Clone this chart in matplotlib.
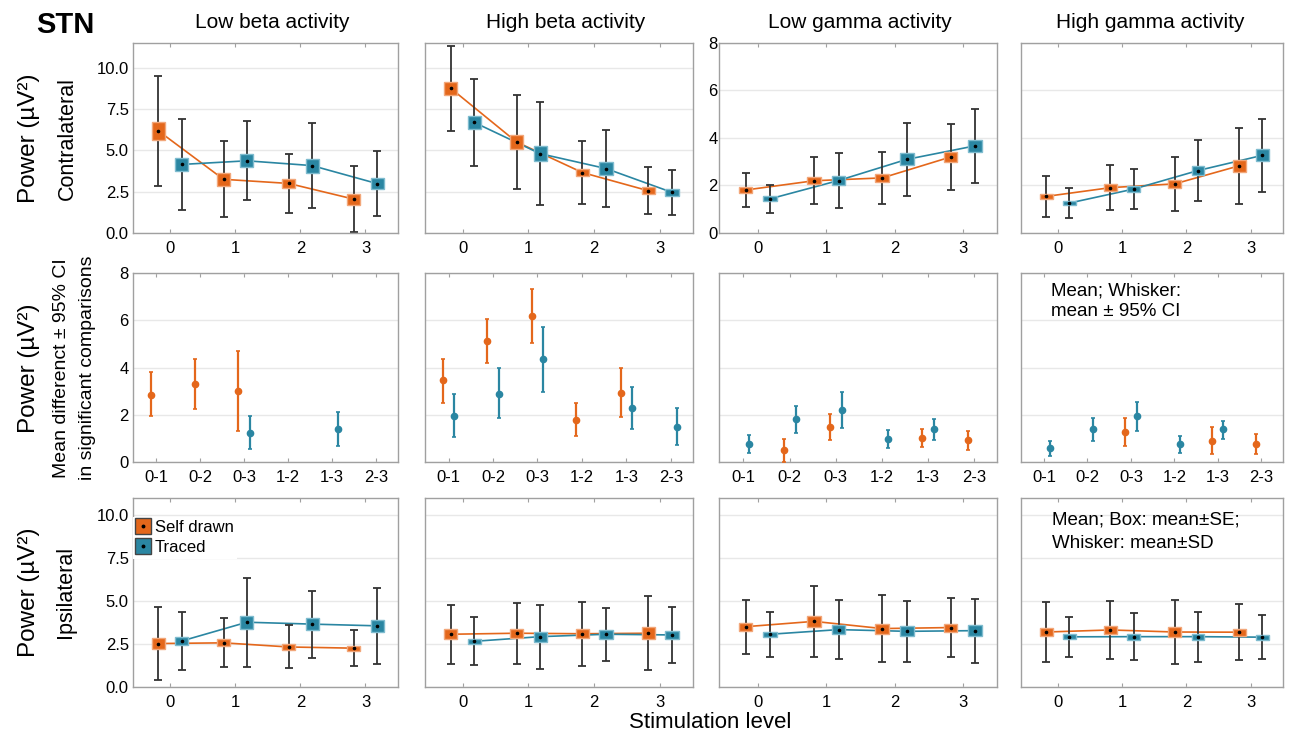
import matplotlib
matplotlib.use('Agg')
import matplotlib.pyplot as plt
from matplotlib.lines import Line2D

plt.rcParams['font.family'] = ['Liberation Sans', 'DejaVu Sans']

# ---- data ----
levels = [0, 1, 2, 3]
pairs = ['0-1', '0-2', '0-3', '1-2', '1-3', '2-3']
titles = ['Low beta activity', 'High beta activity', 'Low gamma activity', 'High gamma activity']

# contralateral (row 1): mean, SE (box), SD (whisker) per band
contra_self_mean = [[6.18, 3.25, 3.00, 2.05], [8.76, 5.51, 3.66, 2.56], [1.81, 2.20, 2.32, 3.20], [1.54, 1.91, 2.07, 2.83]]
contra_self_se = [[0.56, 0.40, 0.25, 0.33], [0.40, 0.45, 0.23, 0.20], [0.11, 0.14, 0.16, 0.23], [0.12, 0.15, 0.18, 0.25]]
contra_self_sd = [[3.35, 2.30, 1.80, 2.00], [2.57, 2.87, 1.92, 1.42], [0.71, 0.98, 1.08, 1.40], [0.87, 0.94, 1.13, 1.61]]
contra_traced_mean = [[4.15, 4.37, 4.08, 2.99], [6.69, 4.80, 3.90, 2.46], [1.44, 2.21, 3.10, 3.67], [1.26, 1.85, 2.63, 3.27]]
contra_traced_se = [[0.40, 0.40, 0.42, 0.32], [0.40, 0.47, 0.38, 0.20], [0.10, 0.18, 0.25, 0.24], [0.10, 0.13, 0.20, 0.25]]
contra_traced_sd = [[2.75, 2.40, 2.55, 1.96], [2.66, 3.10, 2.35, 1.35], [0.59, 1.15, 1.55, 1.57], [0.63, 0.86, 1.30, 1.55]]

# ipsilateral (row 3)
ipsi_self_mean = [[2.53, 2.57, 2.33, 2.26], [3.07, 3.13, 3.10, 3.13], [3.51, 3.82, 3.40, 3.46], [3.20, 3.32, 3.20, 3.19]]
ipsi_self_se = [[0.34, 0.20, 0.17, 0.15], [0.28, 0.26, 0.27, 0.35], [0.23, 0.32, 0.29, 0.23], [0.24, 0.24, 0.28, 0.20]]
ipsi_self_sd = [[2.14, 1.42, 1.25, 1.04], [1.73, 1.78, 1.85, 2.16], [1.58, 2.05, 1.96, 1.70], [1.72, 1.68, 1.87, 1.64]]
ipsi_traced_mean = [[2.68, 3.77, 3.66, 3.56], [2.66, 2.93, 3.07, 3.03], [3.07, 3.34, 3.24, 3.28], [2.92, 2.93, 2.93, 2.90]]
ipsi_traced_se = [[0.22, 0.39, 0.34, 0.35], [0.16, 0.29, 0.26, 0.24], [0.16, 0.24, 0.29, 0.30], [0.14, 0.17, 0.17, 0.15]]
ipsi_traced_sd = [[1.70, 2.58, 1.95, 2.22], [1.40, 1.87, 1.55, 1.64], [1.32, 1.70, 1.78, 1.86], [1.17, 1.35, 1.46, 1.28]]

# significant comparisons (row 2): pair index, mean difference, 95% CI
diff_self_idx = [[0, 1, 2], [0, 1, 2, 3, 4], [1, 2, 4, 5], [2, 4, 5]]
diff_self_mean = [[2.85, 3.30, 3.00], [3.49, 5.14, 6.18, 1.79, 2.93], [0.51, 1.49, 1.00, 0.93], [1.28, 0.91, 0.77]]
diff_self_lo = [[1.94, 2.24, 1.31], [2.49, 4.18, 5.04, 1.10, 1.89], [0.00, 0.93, 0.62, 0.52], [0.69, 0.32, 0.32]]
diff_self_hi = [[3.80, 4.37, 4.70], [4.34, 6.07, 7.31, 2.49, 3.97], [0.97, 2.02, 1.38, 1.32], [1.87, 1.49, 1.19]]
diff_traced_idx = [[2, 4], [0, 1, 2, 4, 5], [0, 1, 2, 3, 4], [0, 1, 2, 3, 4]]
diff_traced_mean = [[1.24, 1.38], [1.96, 2.89, 4.35, 2.28, 1.49], [0.76, 1.80, 2.20, 0.96, 1.39], [0.58, 1.38, 1.94, 0.77, 1.38]]
diff_traced_lo = [[0.55, 0.68], [1.06, 1.87, 2.96, 1.39, 0.72], [0.38, 1.22, 1.45, 0.58, 0.93], [0.27, 0.91, 1.33, 0.39, 0.96]]
diff_traced_hi = [[1.93, 2.10], [2.87, 3.96, 5.72, 3.17, 2.27], [1.14, 2.36, 2.95, 1.35, 1.81], [0.88, 1.85, 2.53, 1.12, 1.73]]

ORANGE = '#E4671B'
ORANGE_EDGE = '#F2A77A'
TEAL = '#2A86A2'
TEAL_EDGE = '#7FBCCF'

W, H = 1290, 735
col_l = [133, 425, 719, 1021]
col_r = [398, 693, 997, 1283]
row_t = [43, 273, 498]
row_b = [233, 462, 687]

fig = plt.figure(figsize=(W / 100, H / 100), dpi=100)


def add_ax(r, c):
    return fig.add_axes([col_l[c] / W, 1 - row_b[r] / H,
                         (col_r[c] - col_l[c]) / W, (row_b[r] - row_t[r]) / H])


def style(ax):
    for s in ax.spines.values():
        s.set_color('#a0a0a0')
        s.set_linewidth(1)
    ax.grid(axis='y', color='#e8e8e8', lw=1)
    ax.set_axisbelow(True)
    ax.tick_params(axis='x', direction='in', length=3, top=True, color='#a0a0a0',
                   labelsize=12, pad=6)
    ax.tick_params(axis='y', length=0, labelsize=12, pad=3)


def box_panel(ax, means, ses, sds, off, color, edge):
    x = [l + off for l in levels]
    ax.plot(x, means, color=color, lw=1.2, zorder=2)
    ax.errorbar(x, means, yerr=sds, fmt='none', ecolor='#333333', elinewidth=1.3,
                capsize=3, capthick=1.3, zorder=2.5)
    ax.bar(x, [2 * s for s in ses], bottom=[m - s for m, s in zip(means, ses)], width=0.2,
           color=color, edgecolor=edge, linewidth=1, zorder=3)
    ax.plot(x, means, ls='none', marker='o', ms=1.6, color='k', zorder=4)


for c in range(4):
    # row 1 contralateral
    ax = add_ax(0, c)
    style(ax)
    box_panel(ax, contra_self_mean[c], contra_self_se[c], contra_self_sd[c], -0.18, ORANGE, ORANGE_EDGE)
    box_panel(ax, contra_traced_mean[c], contra_traced_se[c], contra_traced_sd[c], 0.18, TEAL, TEAL_EDGE)
    ax.set_xlim(-0.57, 3.5)
    ax.set_xticks(levels)
    if c < 2:
        ax.set_ylim(0, 11.5)
        ax.set_yticks([0, 2.5, 5, 7.5, 10])
        ax.set_yticklabels(['0.0', '2.5', '5.0', '7.5', '10.0'])
    else:
        ax.set_ylim(0, 8)
        ax.set_yticks([0, 2, 4, 6, 8])
    if c not in (0, 2):
        ax.set_yticklabels([])
    if c == 2:
        ax.tick_params(axis='y', pad=1)

    # row 2 mean differences
    ax = add_ax(1, c)
    style(ax)
    xs = [i - 0.13 for i in diff_self_idx[c]]
    ax.errorbar(xs, diff_self_mean[c],
                yerr=[[m - lo for m, lo in zip(diff_self_mean[c], diff_self_lo[c])],
                      [hi - m for m, hi in zip(diff_self_mean[c], diff_self_hi[c])]],
                fmt='o', ms=4.5, color=ORANGE, elinewidth=1.6, capsize=1.2, capthick=1.2, zorder=3)
    xt = [i + 0.13 for i in diff_traced_idx[c]]
    ax.errorbar(xt, diff_traced_mean[c],
                yerr=[[m - lo for m, lo in zip(diff_traced_mean[c], diff_traced_lo[c])],
                      [hi - m for m, hi in zip(diff_traced_mean[c], diff_traced_hi[c])]],
                fmt='o', ms=4.5, color=TEAL, elinewidth=1.6, capsize=1.2, capthick=1.2, zorder=3)
    ax.set_xlim(-0.53, 5.5)
    ax.set_ylim(0, 8)
    ax.set_xticks(range(len(pairs)))
    ax.set_xticklabels(pairs)
    ax.set_yticks([0, 2, 4, 6, 8])
    if c != 0:
        ax.set_yticklabels([])
    if c == 3:
        ax.text(0.115, 0.95, 'Mean; Whisker:\nmean \u00b1 95% CI', transform=ax.transAxes,
                ha='left', va='top', fontsize=13.5, linespacing=1.25)

    # row 3 ipsilateral
    ax = add_ax(2, c)
    style(ax)
    box_panel(ax, ipsi_self_mean[c], ipsi_self_se[c], ipsi_self_sd[c], -0.18, ORANGE, ORANGE_EDGE)
    box_panel(ax, ipsi_traced_mean[c], ipsi_traced_se[c], ipsi_traced_sd[c], 0.18, TEAL, TEAL_EDGE)
    ax.set_xlim(-0.57, 3.5)
    ax.set_xticks(levels)
    ax.set_ylim(0, 11)
    ax.set_yticks([0, 2.5, 5, 7.5, 10])
    ax.set_yticklabels(['0.0', '2.5', '5.0', '7.5', '10.0'] if c == 0 else [])
    if c == 0:
        h_self = (Line2D([], [], marker='s', ls='none', ms=11, mfc=ORANGE, mec='#444444'),
                  Line2D([], [], marker='o', ls='none', ms=1.8, color='k'))
        h_traced = (Line2D([], [], marker='s', ls='none', ms=11, mfc=TEAL, mec='#444444'),
                    Line2D([], [], marker='o', ls='none', ms=1.8, color='k'))
        leg = ax.legend([h_self, h_traced], ['Self drawn', 'Traced'], loc='upper left',
                        bbox_to_anchor=(0.0, 0.9), fontsize=12, handlelength=0.8,
                        handletextpad=0.3, borderaxespad=0, borderpad=0.2, labelspacing=0.3,
                        frameon=True, fancybox=False, framealpha=1)
        leg.get_frame().set_edgecolor('none')
    if c == 3:
        ax.text(0.12, 0.93, 'Mean; Box: mean\u00b1SE;\nWhisker: mean\u00b1SD', transform=ax.transAxes,
                ha='left', va='top', fontsize=13.5, linespacing=1.5)

# titles and labels
fig.text(65 / W, 1 - 25 / H, 'STN', fontsize=21, fontweight='bold', ha='center', va='center')
for x, t in zip([272, 566, 860, 1150], titles):
    fig.text(x / W, 1 - 22 / H, t, fontsize=15, ha='center', va='center')

fig.text(29 / W, 1 - 138 / H, 'Power (\u00b5V\u00b2)', rotation=90, fontsize=17.5, ha='center', va='center')
fig.text(67 / W, 1 - 138 / H, 'Contralateral', rotation=90, fontsize=15.5, ha='center', va='center')
fig.text(29 / W, 1 - 368 / H, 'Power (\u00b5V\u00b2)', rotation=90, fontsize=17.5, ha='center', va='center')
fig.text(61 / W, 1 - 368 / H, 'Mean differenct \u00b1 95% CI', rotation=90, fontsize=14, ha='center', va='center')
fig.text(87 / W, 1 - 368 / H, 'in significant comparisons', rotation=90, fontsize=14, ha='center', va='center')
fig.text(29 / W, 1 - 592 / H, 'Power (\u00b5V\u00b2)', rotation=90, fontsize=17.5, ha='center', va='center')
fig.text(65 / W, 1 - 592 / H, 'Ipsilateral', rotation=90, fontsize=15.5, ha='center', va='center')

fig.text(710 / W, 1 - 722 / H, 'Stimulation level', fontsize=16, ha='center', va='center')

fig.savefig('out.png', dpi=100)
